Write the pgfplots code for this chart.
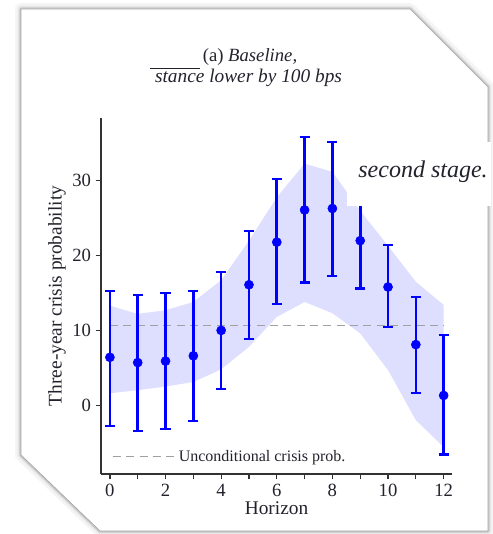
\documentclass[border=0pt]{standalone}
\usepackage{fontspec}
\setmainfont{Liberation Serif}
\usepackage{pgfplots}
\usepackage{pgfplotstable}
\pgfplotsset{compat=1.18}

\definecolor{barblue}{RGB}{0,0,255}
\definecolor{bandblue}{RGB}{222,223,255}
\definecolor{uncgray}{RGB}{160,160,160}
\definecolor{axgray}{RGB}{50,50,50}
\definecolor{txt}{RGB}{35,35,45}

% point estimate and error-bar ends
\pgfplotstableread{
h  m     lo    hi
0  6.4  -2.8  15.3
1  5.7  -3.5  14.7
2  5.9  -3.2  15.0
3  6.6  -2.1  15.3
4  10.0  2.2  17.8
5  16.1  8.8  23.3
6  21.8 13.5  30.3
7  26.1 16.4  35.9
8  26.3 17.3  35.2
9  22.0 15.6  28.4
10 15.8 10.4  21.4
11 8.1   1.6  14.5
12 1.3  -6.6   9.4
}\bars

% shaded band: upper edge left to right, then lower edge right to left
\pgfplotstableread{
h  y
0  13.3
1  12.2
2  12.7
3  13.8
4  16.7
5  22.0
6  27.8
7  32.3
8  31.2
9  26.0
10 21.3
11 16.5
12 13.4
12 -5.6
11 -2.0
10  4.7
9   9.6
8  12.3
7  13.8
6  11.8
5   7.8
4   4.8
3   3.1
2   2.5
1   2.0
0   1.6
}\band

\def\pageframe{(21,525) -- (410,525) -- (488,447) -- (488,3) -- (100,3) -- (21,79) -- cycle}

\begin{document}
\begin{tikzpicture}
\begin{scope}[x=0.75pt,y=0.75pt]
\useasboundingbox (0,0) rectangle (491,534);
% page frame with soft shadow
\draw[black!4, line width=9pt, line join=round] \pageframe;
\draw[black!9, line width=5pt, line join=round] \pageframe;
\draw[black!22, line width=2.5pt, line join=round] \pageframe;
\fill[white] \pageframe;
\draw[gray!70, line width=0.5pt] \pageframe;
\end{scope}

\begin{axis}[
    at={(75.75pt,45pt)}, anchor=south west,
    scale only axis,
    width=263.25pt, height=267pt,
    xmin=-0.32, xmax=12.3,
    ymin=-9.2, ymax=38.4,
    axis lines=left,
    axis line style={-, draw=axgray, line width=0.9pt},
    tick style={draw=axgray, line width=0.9pt},
    tick align=outside,
    major tick length=4pt,
    xtick={0,...,12},
    xticklabels={0,,2,,4,,6,,8,,10,,12},
    ytick={0,10,20,30},
    /pgf/number format/assume math mode=true,
    tick label style={font=\fontsize{14}{16}\selectfont, text=txt},
    label style={font=\fontsize{14.5}{17}\selectfont, text=txt},
    xlabel={Horizon},
    ylabel={Three-year crisis probability},
    xlabel style={yshift=3pt},
    ylabel style={yshift=-2pt},
    legend style={draw=none, fill=none, at={(0.02,0.015)}, anchor=south west,
        font=\fontsize{12}{14}\selectfont, text=txt},
    legend image code/.code={\draw[#1] (0pt,0pt) -- (42pt,0pt); \path (0pt,0pt) -- (47pt,0pt);},
    legend cell align=left,
]
\addplot[fill=bandblue, draw=none, forget plot] table[x=h, y=y] {\band} -- cycle;

\addplot[uncgray, line width=0.9pt, dash pattern=on 6pt off 4pt]
    coordinates {(0,10.7) (12,10.7)};
\addlegendentry{Unconditional crisis prob.}

\addplot[barblue, only marks, mark=*, mark size=3.4pt, forget plot,
    error bars/.cd, y dir=both, y explicit,
    error bar style={line width=2pt, barblue},
    error mark options={rotate=90, mark size=3.8pt, line width=1.6pt, barblue}]
    table[x=h, y=m,
          y error plus expr=\thisrow{hi}-\thisrow{m},
          y error minus expr=\thisrow{m}-\thisrow{lo}] {\bars};
\end{axis}

\begin{scope}[x=0.75pt,y=0.75pt]
% title
\node[anchor=base, text=txt, font=\fontsize{14}{17}\selectfont] at (250,472) {(a) \textit{Baseline,}};
\node[anchor=base, text=txt, font=\fontsize{14.5}{17}\selectfont] at (248.5,451) {\textit{stance lower by 100 bps}};
\draw[txt, line width=0.6pt] (150,466) -- (200,466);
% overlaid caption fragment
\fill[white] (347,328.3) rectangle (491,392);
\node[anchor=base, text=txt, font=\fontsize{18}{21}\selectfont\itshape] at (423,356) {second stage.};
\end{scope}
\end{tikzpicture}
\end{document}
